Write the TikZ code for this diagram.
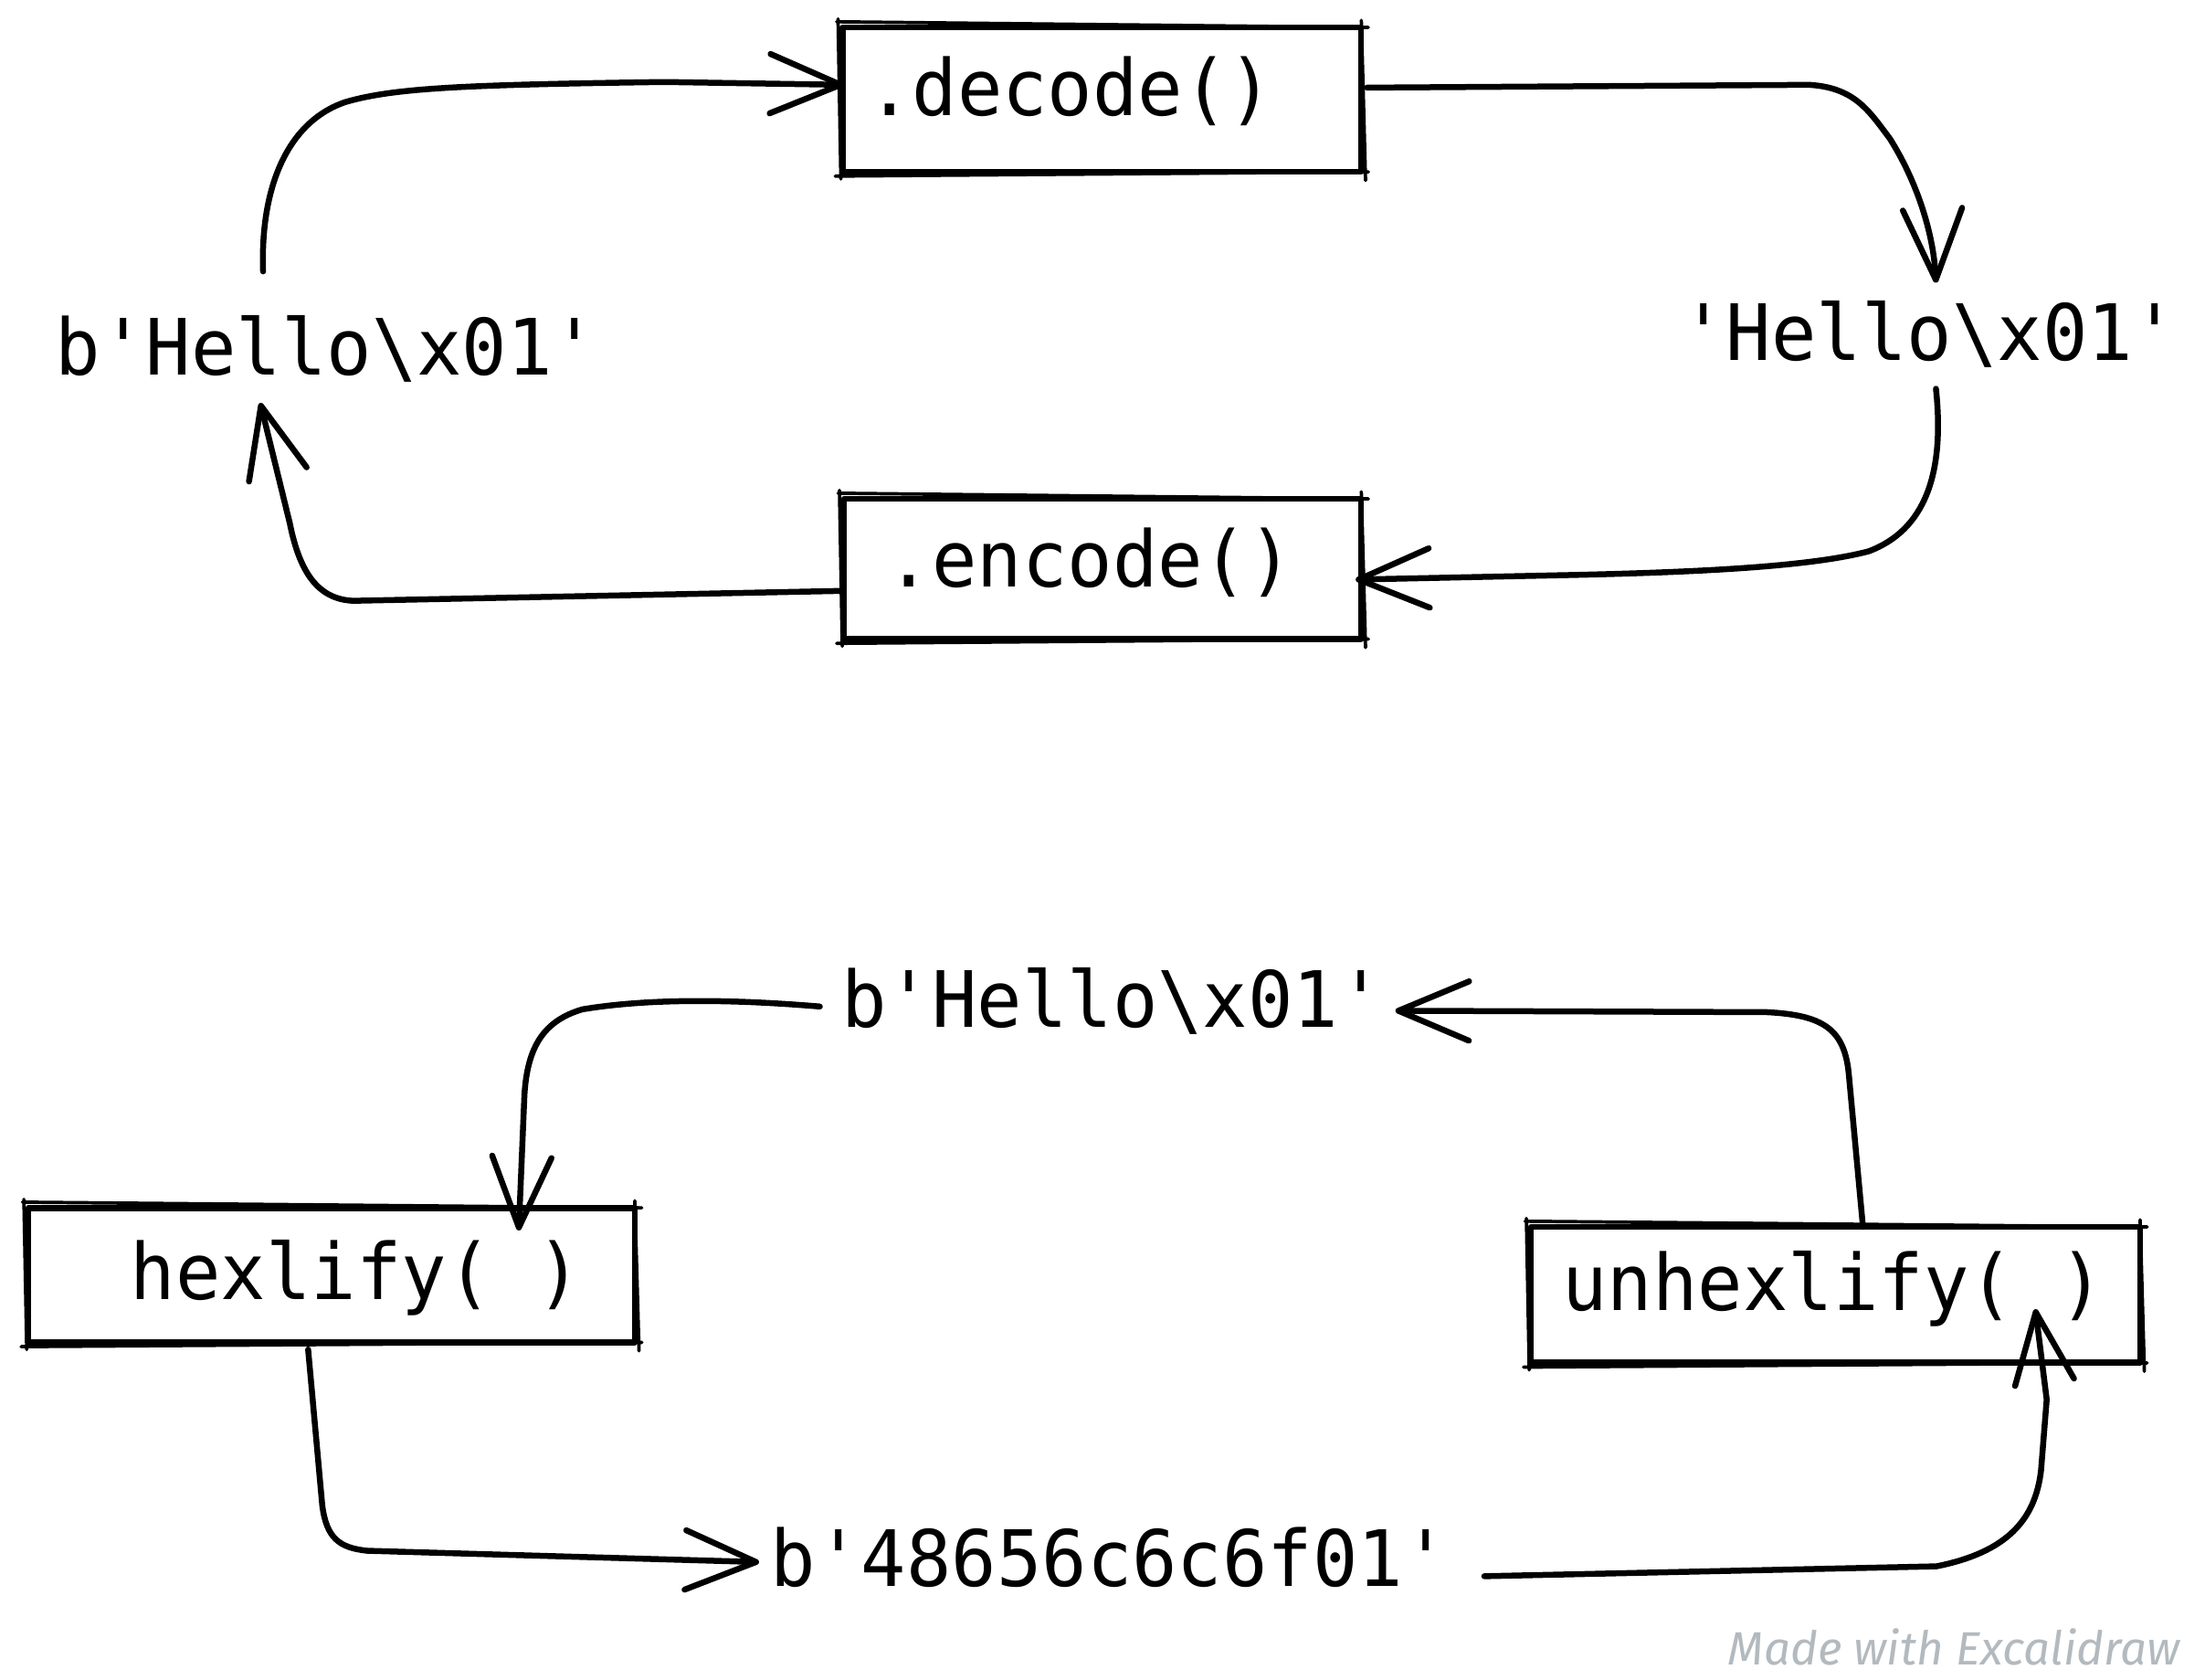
\documentclass[tikz,border=0pt]{standalone}
\usepackage{fontspec}
\setmonofont{DejaVu Sans Mono}[FakeStretch=0.965]
\newfontfamily\wmfont{Fira Sans}
\usetikzlibrary{arrows.meta,calc}
\definecolor{wmgray}{RGB}{179,186,191}
\newcommand{\roughbox}[1]{%
  \draw[line width=1.2pt,line cap=round]
    ($(#1.north west)+(-2,-2)$) -- ($(#1.north east)+(3,2)$)
    ($(#1.north east)+(-2,-3)$) -- ($(#1.south east)+(1,4)$)
    ($(#1.south east)+(3,-2)$) -- ($(#1.south west)+(-3,1)$)
    ($(#1.south west)+(1,3)$) -- ($(#1.north west)+(-1,-4)$);}
\begin{document}
\begin{tikzpicture}[x=0.5pt,y=-0.5pt,
  txt/.style={inner sep=0pt, anchor=base west, font=\ttfamily\fontsize{27.5pt}{31pt}\selectfont},
  box/.style={draw, line width=2.1pt, inner sep=0pt, line join=round},
  ln/.style={line width=2.1pt, line cap=round, line join=round},
  arr/.style={ln, -{Straight Barb[length=25pt,width=21pt,round]}}]
\useasboundingbox (0,0) rectangle (1560,1188.4);
\fill[white] (0,0) rectangle (1560,1188.4);

% boxes
\node[box, minimum width=183.5pt, minimum height=51pt] (dec) at (779.5,70.5) {};
\node[box, minimum width=183pt, minimum height=49.5pt] (enc) at (780,402.5) {};
\node[box, minimum width=214.5pt, minimum height=47.5pt] (hex) at (234.5,902) {};
\node[box, minimum width=215.5pt, minimum height=48pt] (unh) at (1298.5,916) {};
\roughbox{dec}
\roughbox{enc}
\roughbox{hex}
\roughbox{unh}

% texts
\node[txt] (bl1) at (39,265) {b'Hello\textbackslash x01'};
\node[txt] (sr) at (1189,255) {'Hello\textbackslash x01'};
\node[txt] (decT) at (613,82) {.decode()};
\node[txt] (encT) at (627,415) {.encode()};
\node[txt] (bl2) at (595,727) {b'Hello\textbackslash x01'};
\node[txt] (hexT) at (92,919) {hexlify( )};
\node[txt] (unhT) at (1105,927) {unhexlify( )};
\node[txt] (hexB) at (545,1122) {b'48656c6c6f01'};

% connectors
\draw[arr] ($(bl1.base)+(-45,-73)$) .. controls (184,130) and (205,85) .. (245,72)
  .. controls (280,62) and (330,60) .. (470,58) -- ($(dec.west)+(3,-10.5)$);
\draw[arr] ($(dec.east)+(2,-8.5)$) -- (1280,60) .. controls (1312,62) and (1322,78) .. (1337,98)
  .. controls (1356,128) and (1368,165) .. ($(sr.base)+(4.5,-55)$);
\draw[arr] ($(sr.base)+(4.5,20)$) .. controls (1376,335) and (1362,375) .. (1322,390)
  .. controls (1280,401) and (1200,405) .. (1100,407) -- ($(enc.east)+(-6,7.5)$);
\draw[arr] ($(enc.west)+(0,15.5)$) -- (250,425) .. controls (225,424) and (212,405) .. (205,370)
  -- ($(bl1.base)+(-47,20)$);
\draw[arr] ($(bl2.base west)+(-15,-15)$) .. controls (520,707) and (460,706) .. (412,714)
  .. controls (385,722) and (373,740) .. (371,775) -- ($(hex.north)+(132.5,18)$);
\draw[arr] ($(unh.north)+(19.5,2)$) -- (1308,760) .. controls (1305,728) and (1290,718) .. (1250,716)
  -- ($(bl2.base east)+(8,-12)$);
\draw[arr] ($(hex.south)+(-16.5,3)$) -- (228,1065) .. controls (231,1088) and (240,1095) .. (260,1097)
  -- ($(hexB.base west)+(-8,-17)$);
\draw[arr] ($(hexB.base east)+(25,-7)$) -- (1370,1108) .. controls (1420,1098) and (1440,1075) .. (1444,1040)
  -- (1448,990) -- ($(unh.south)+(141.5,-40)$);

% watermark
\node[anchor=base west, inner sep=0pt, text=wmgray, font=\wmfont\itshape\fontsize{16.5pt}{19pt}\selectfont] (wm) at (1222,1178) {Made with Excalidraw};
\end{tikzpicture}
\end{document}
